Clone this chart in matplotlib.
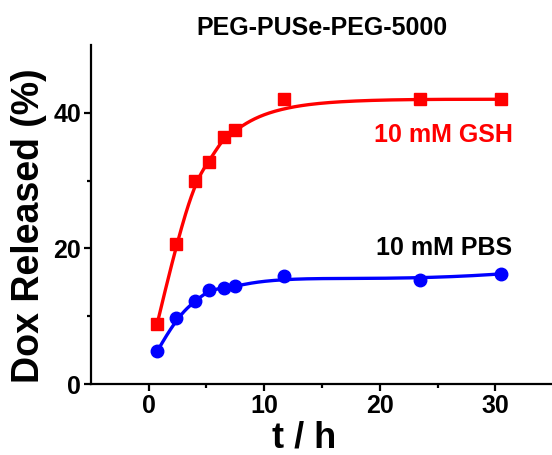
import numpy as np
import matplotlib
matplotlib.use("Agg")
import matplotlib.pyplot as plt

plt.rcParams['font.family'] = ['Liberation Sans', 'DejaVu Sans']
plt.rcParams['font.weight'] = 'bold'

# data
t_h = [0.75, 2.4, 4.0, 5.2, 6.5, 7.5, 11.7, 23.5, 30.5]
gsh = [8.9, 20.7, 30.0, 32.7, 36.4, 37.4, 42.0, 42.0, 42.0]
pbs = [4.8, 9.8, 12.2, 13.8, 14.2, 14.4, 15.9, 15.4, 16.25]
title = "PEG-PUSe-PEG-5000"
lab_gsh = "10 mM GSH"
lab_pbs = "10 mM PBS"


def bspline(px, py, k=3, num=400):
    # clamped B-spline using the points as control points (Origin style)
    px = np.asarray(px, float)
    py = np.asarray(py, float)
    n = len(px)
    knots = np.concatenate([np.zeros(k), np.linspace(0, 1, n - k + 1), np.ones(k)])
    u = np.linspace(0, 1, num)
    N = np.zeros((num, len(knots) - 1))
    for i in range(len(knots) - 1):
        N[:, i] = (knots[i] <= u) & (u < knots[i + 1])
    last = max(i for i in range(len(knots) - 1) if knots[i] < knots[i + 1])
    N[-1, :] = 0
    N[-1, last] = 1
    for d in range(1, k + 1):
        M = np.zeros((num, len(knots) - 1 - d))
        for i in range(len(knots) - 1 - d):
            a = knots[i + d] - knots[i]
            b = knots[i + d + 1] - knots[i + 1]
            if a > 0:
                M[:, i] += (u - knots[i]) / a * N[:, i]
            if b > 0:
                M[:, i] += (knots[i + d + 1] - u) / b * N[:, i + 1]
        N = M
    return N @ px, N @ py


fig = plt.figure(figsize=(5.52, 4.55), dpi=100)
ax = fig.add_axes([0.1643, 0.156, 0.838, 0.745])

for y, c, m, ms in [(gsh, '#ff0000', 's', 8), (pbs, '#0000ff', 'o', 9)]:
    cx, cy = bspline(t_h, y)
    ax.plot(cx, cy, color=c, lw=2.4, solid_capstyle='round')
    ax.plot(t_h, y, ls='none', marker=m, ms=ms, color=c, clip_on=False)

ax.text(19.5, 35.7, lab_gsh, color='#ff0000', fontsize=18, fontweight='bold')
ax.text(19.7, 19.1, lab_pbs, color='black', fontsize=18, fontweight='bold')

ax.set_xlim(-5, 35)
ax.set_ylim(0, 50)
ax.set_xticks([0, 10, 20, 30])
ax.set_xticks([5, 15, 25], minor=True)
ax.set_yticks([0, 20, 40])
ax.set_yticks([10, 30], minor=True)

for s in ['top', 'right']:
    ax.spines[s].set_visible(False)
for s in ['left', 'bottom']:
    ax.spines[s].set_linewidth(1.6)
ax.tick_params(which='major', direction='out', length=5, width=1.6, labelsize=18, pad=2)
ax.tick_params(which='minor', direction='out', length=3, width=1.6)

fig.text(304 / 552, 1 - 448 / 455, "t / h", ha='center', va='baseline',
         fontsize=26, fontweight='bold')
fig.text(29 / 552, 1 - 226 / 455, "Dox Released (%)", ha='center', va='center',
         rotation=90, fontsize=27, fontweight='bold')

fig.text(322 / 552, 1 - 35 / 455, title, ha='center', va='baseline',
         fontsize=18, fontweight='bold')

fig.savefig("out.png", dpi=100)
